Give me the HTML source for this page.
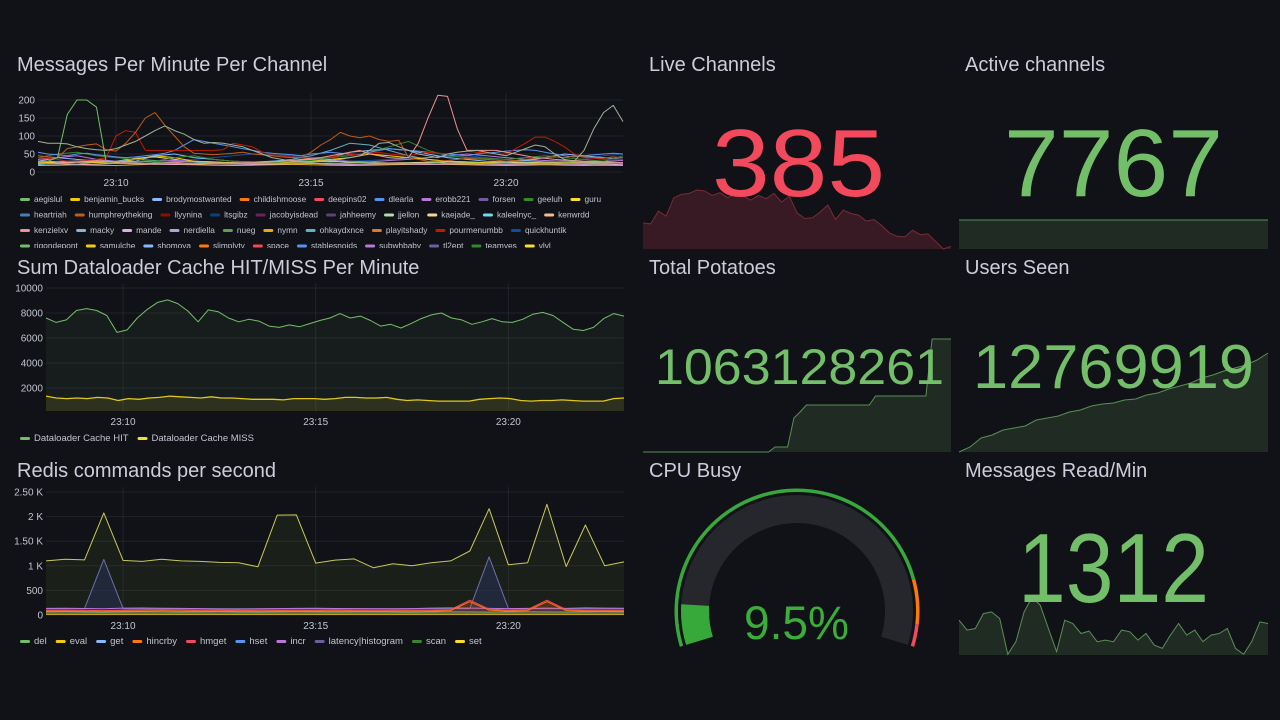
<!DOCTYPE html>
<html>
<head>
<meta charset="utf-8">
<style>
html,body{margin:0;padding:0;background:#111217;}
svg{display:block;font-family:"Liberation Sans",sans-serif;}
.ttl{fill:#ccccdc;font-size:20px;}
.ax{fill:#c2c4cf;font-size:10px;}
.lg{fill:#c2c4cf;font-size:9.5px;}
.lg1{fill:#c2c4cf;font-size:8.3px;}
</style>
</head>
<body>
<svg id="dash" width="1280" height="720" viewBox="0 0 1280 720">
  <rect x="0" y="0" width="1280" height="720" fill="#111217"/>
  <defs>
    <clipPath id="clip1"><rect x="0" y="85" width="636" height="163"/></clipPath>
  </defs>
  <g id="p1">
    <text class="ttl" x="17" y="71">Messages Per Minute Per Channel</text>
  </g>
  <g id="p2">
    <text class="ttl" x="17" y="274">Sum Dataloader Cache HIT/MISS Per Minute</text>
  </g>
  <g id="p3">
    <text class="ttl" x="17" y="477">Redis commands per second</text>
  </g>
  <g id="s1">
    <text class="ttl" x="649" y="71">Live Channels</text>
  </g>
  <g id="s2">
    <text class="ttl" x="965" y="71">Active channels</text>
  </g>
  <g id="s3">
    <text class="ttl" x="649" y="274">Total Potatoes</text>
  </g>
  <g id="s4">
    <text class="ttl" x="965" y="274">Users Seen</text>
  </g>
  <g id="s5">
    <text class="ttl" x="649" y="477">CPU Busy</text>
  </g>
  <g id="s6">
    <text class="ttl" x="965" y="477">Messages Read/Min</text>
  </g>
</svg>
<script>
// ---------- Chart 1 data (Messages Per Minute Per Channel) ----------
const c1Ticks = [0, 50, 100, 150, 200];
const timeTickLabels = ["23:10", "23:15", "23:20"];
const timeTickMinutes = [2, 7, 12];
const c1Aegislul = [28,30,40,160,200,200,180,25,24,24,25,24,26,25,24,23,24,25,24,24,23,23,24,25,24,24,23,24,25,24,25,24,25,26,25,24,24,24,25,24,25,26,24,24,25,24,23,24,25,24,25,24,23,24,25,24,24,23,24,25,24];
const c1Kenwrdd = [85,80,80,78,70,65,62,60,65,75,85,100,115,128,115,105,90,80,82,80,75,70,60,50,40,35,30,30,28,30,32,35,40,45,60,80,82,70,60,50,45,40,50,55,58,60,55,50,45,55,65,75,70,50,35,30,60,120,165,185,140];
const c1Kenzielxv = [30,30,28,27,28,30,32,30,28,26,25,24,25,26,27,25,24,25,26,25,24,25,26,27,28,30,32,35,38,40,45,50,55,60,50,45,40,38,40,80,150,213,210,120,60,60,60,60,55,50,45,40,38,35,33,32,30,30,28,27,26];
const c1Humphrey = [45,42,40,65,70,75,78,62,58,80,110,150,165,130,100,70,52,50,48,50,52,55,50,48,45,42,40,40,55,75,90,110,100,95,100,90,85,88,40,35,30,30,32,35,38,36,35,33,30,32,35,38,40,42,40,45,42,40,38,42,40];
const c1Llyynina = [40,38,35,30,30,32,35,40,100,115,110,60,60,60,60,60,60,60,60,62,80,75,70,55,48,45,42,40,38,40,42,45,48,50,52,55,50,48,45,50,55,52,50,55,58,55,52,50,50,65,80,97,97,85,70,50,40,38,35,35,35];
const c1Dlearla = [55,50,48,45,50,52,48,45,42,40,42,45,48,52,60,75,90,85,80,75,70,65,60,55,52,50,48,45,50,52,55,52,50,48,55,60,65,62,60,58,55,52,50,48,45,50,52,55,58,60,62,60,55,50,45,42,45,48,50,52,50];
const c1Brody = [30,40,35,30,28,30,45,50,40,35,30,28,30,32,35,40,55,60,65,60,50,40,35,30,28,32,40,50,45,40,35];
const c1Benjamin = [25,28,30,26,25,35,45,40,30,28,25,24,25,28,30,35,40,50,45,40,35,30,28,26,25,24,25,26,25,24,25];
const c1Erobb = [35,40,45,35,30,28,30,32,30,28,25,26,28,30,35,32,30,28,32,35,40,45,50,45,40,35,32,30,28,30,32];
const c1Ohkay = [20,25,22,28,30,35,32,30,28,25,24,26,30,35,45,60,80,75,60,45,35,30,28,25,30,32,28,25,26,28,25];
const c1Geeluh = [40,50,55,45,40,35,30,40,45,35,30,28,26,30,32,40,45,55,70,85,60,45,40,38,35,40,45,40,35,30,45];
const c1Quick = [28,30,32,35,30,28,30,32,35,40,45,50,48,45,40,35,30,32,35,38,40,42,45,40,35,30,28,30,35,45,50];
const c1Mande = [22,23,21,22,24,23,22,21,22,23,22,21,22,23,24,22,21,22,23,22,21,22,23,22,21,22,23,22,21,22,20];
const c1Kaejade = [26,25,27,28,30,38,42,35,30,27,26,25,26,27,28,30,27,26,25,26,27,28,26,25,26,27,26,25,26,27,26];
const c1Nymn = [18,19,20,19,18,20,22,21,20,19,18,19,20,21,20,19,18,19,20,21,22,21,20,19,18,19,20,19,18,19,18];
const c1Names = ["aegislul","benjamin_bucks","brodymostwanted","childishmoose","deepins02","dlearla","erobb221","forsen","geeluh","guru","heartriah","humphreytheking","llyynina","ltsgibz","jacobyisdead","jahheemy","jjellon","kaejade_","kaleelnyc_","kenwrdd","kenzielxv","macky","mande","nerdiella","nueg","nymn","ohkaydxnce","playitshady","pourmenumbb","quickhuntik","rigondepont","samulche","shomoya","slimplyty","space","stablesnoids","subwhbaby","tl2ept","teamyes","vlvl"];
const c1Colors = ["#73BF69","#F2CC0C","#8AB8FF","#FF780A","#F2495C","#5794F2","#B877D9","#705DA0","#37872D","#FADE2A","#447EBC","#C15C17","#890F02","#0A437C","#6D1F62","#584477","#B7DBAB","#F4D598","#70DBED","#F9BA8F","#F29191","#82B5D8","#E5A8E2","#AEA2E0","#629E51","#E5AC0E","#64B0C8","#E0752D","#BF1B00","#0A50A1","#73BF69","#F2CC0C","#8AB8FF","#FF780A","#F2495C","#5794F2","#B877D9","#705DA0","#37872D","#FADE2A"];

// ---------- Chart 2 data (Dataloader) ----------
const c2Ticks = [2000, 4000, 6000, 8000, 10000];
const c2Hit = [7600,7250,7450,8200,8350,8200,7800,6450,6650,7600,8300,8850,9050,8750,8150,7300,8250,8100,7600,7300,7500,7350,6950,6850,7050,6900,7150,7400,7600,7950,7600,7750,7400,6950,7100,6800,7150,7550,7850,8000,7600,7450,7100,7300,7550,7300,7250,7500,7900,8050,7800,7250,6700,6600,6850,7550,7950,7750];
const c2Miss = [1350,1200,1150,1200,1150,1250,1200,1000,1150,1100,1200,1250,1350,1300,1250,1200,1300,1200,1200,1150,1100,1100,1100,1050,1150,1150,1150,1100,1150,1250,1250,1200,1200,1250,1100,1000,1050,1000,950,950,950,950,1100,1150,1200,1150,1000,950,1000,1000,1050,1000,950,950,950,1150,1200];

// ---------- Chart 3 data (Redis) ----------
const c3Ticks = [0, 500, 1000, 1500, 2000, 2500];
const c3TickLabels = ["0","500","1 K","1.50 K","2 K","2.50 K"];
const c3Set = [1100,1135,1120,2075,1110,1090,1135,1100,1090,1070,1060,980,2030,2035,1055,1115,1140,960,1040,1000,1060,1100,1300,2160,1020,1060,2250,985,1830,1000,1080];
const c3Latency = [130,130,130,1130,130,130,130,130,130,130,130,130,130,130,130,130,130,130,130,130,130,130,130,1180,130,130,130,130,130,130,130];
const c3Hmget = [100,100,95,90,100,105,110,105,100,95,90,95,100,100,100,105,100,95,95,100,100,110,300,120,100,110,300,110,100,100,100];
const c3Hincrby = [80,80,78,75,80,82,85,82,80,78,75,78,80,80,80,82,80,78,78,80,80,90,270,100,80,90,270,90,80,80,80];
const c3Incr = [135,138,132,128,140,142,138,135,130,120,118,125,130,135,138,132,130,128,125,130,140,145,140,135,130,135,140,135,145,140,138];
const c3Del = [60,62,58,55,60,62,60,58,60,62,58,56,60,62,60,58,60,60,58,56,60,62,60,58,60,62,60,58,60,62,60];
const c3Eval = [15,15,16,15,14,15,16,15,15,14,15,16,15,15,14,15,16,15,15,14,15,16,15,15,14,15,16,15,15,14,15];
const c3Names = ["del","eval","get","hincrby","hmget","hset","incr","latency|histogram","scan","set"];
const c3Colors = ["#73BF69","#F2CC0C","#8AB8FF","#FF780A","#F2495C","#5794F2","#B877D9","#705DA0","#37872D","#FADE2A"];

// ---------- Stat panel data ----------
const liveSpark = [455,452,490,475,530,540,543,553,550,537,545,530,543,535,523,537,527,543,517,535,485,468,470,487,508,465,493,483,478,460,465,447,425,415,413,433,420,422,400,377,385];
const activeSpark = [7767,7767,7767,7767,7767,7767,7767,7767,7767,7767,7767,7767,7767,7767,7767,7767,7767,7767,7767,7767];
const potatoSpark = [0,0,0,0,0,0,0,0,0,0,0,0,0,0,0,0,0,0,0,0,0,5,5,5,34,40,47,47,47,47,47,47,47,47,47,47,47,56,56,56,56,56,56,56,56,56,113,113,113,113];
const usersSpark = [0,5,14,17,22,24,26,32,34,36,40,42,46,48,49,52,53,57,59,63,66,69,74,77,81,84,87,92,99];
const msgSpark = [105,75,80,125,130,110,2,40,130,175,150,80,10,105,95,65,72,40,45,40,75,70,45,65,30,20,60,95,60,75,40,60,65,80,20,2,40,100,95];
const cpuValue = 9.5;
const cpuThresholds = [0, 85, 95];
const cpuThresholdColors = ["#37a93b", "#FF780A", "#F2495C"];

// ---------- helpers ----------
const NS = "http://www.w3.org/2000/svg";
function mk(tag, parent) { const e = document.createElementNS(NS, tag); parent.appendChild(e); return e; }
function attrs(e, a) { for (const k in a) e.setAttribute(k, a[k]); return e; }
const TMAX = 15;

function seriesPoints(vals, xf, yf) {
  const n = vals.length;
  return vals.map((v, i) => [xf(i * TMAX / (n - 1)), yf(v)]);
}
function pathFrom(pts) { return pts.map((p, i) => (i ? "L" : "M") + p[0].toFixed(1) + "," + p[1].toFixed(1)).join(""); }

function drawAxes(g, geo, ticks, tickLabels, labelRight) {
  ticks.forEach((v, i) => {
    const y = geo.y(v);
    const ln = mk("line", g);
    attrs(ln, {x1: geo.x0, x2: geo.x1, y1: y, y2: y, stroke: "rgba(204,204,220,0.09)", "stroke-width": 1});
    
    
    const t = mk("text", g);
    attrs(t, {x: labelRight, y: y + 3.5, "text-anchor": "end", class: "ax"});
    t.textContent = tickLabels ? tickLabels[i] : String(v);
    
    
  });
  timeTickMinutes.forEach((m, i) => {
    const x = geo.x(m);
    const ln = mk("line", g);
    attrs(ln, {x1: x, x2: x, y1: geo.top, y2: geo.bottom, stroke: "rgba(204,204,220,0.09)", "stroke-width": 1});
    
    
    const t = mk("text", g);
    attrs(t, {x: x, y: geo.labelY, "text-anchor": "middle", class: "ax"});
    t.textContent = timeTickLabels[i];
    
    
  });
}

function drawSeries(g, vals, geo, color, fill, name, width) {
  const pts = seriesPoints(vals, geo.x, geo.y);
  if (fill) {
    const a = mk("path", g);
    attrs(a, {d: pathFrom(pts) + "L" + pts[pts.length - 1][0] + "," + geo.bottom + "L" + pts[0][0] + "," + geo.bottom + "Z", fill: fill, stroke: "none"});
    
    
  }
  const p = mk("path", g);
  attrs(p, {d: pathFrom(pts), fill: "none", stroke: color, "stroke-width": width || 1, "stroke-linejoin": "round"});
  
  
}

function drawLegend(g, names, colors, startX, startY, maxX, rowH, cls, gap) {
  let x = startX, y = startY;
  names.forEach((nm, i) => {
    const t = mk("text", g);
    attrs(t, {class: cls, x: 0, y: 0});
    t.textContent = nm;
    const w = t.getComputedTextLength ? t.getComputedTextLength() : nm.length * 5;
    if (x + 15 + w > maxX && x > startX) { x = startX; y += rowH; }
    const sw = mk("rect", g);
    attrs(sw, {x: x, y: y - 4, width: 10, height: 3, rx: 1.5, fill: colors[i]});
    
    
    attrs(t, {x: x + 14, y: y});
    
    
    x += 14 + w + gap;
  });
}

// ---------- Chart 1 ----------
(function () {
  const g = document.getElementById("p1");
  const geo = {x0: 38, x1: 623, top: 93, bottom: 172, labelY: 186,
    x: t => 38 + t * 39, y: v => 172 - v * 0.36};
  drawAxes(g, geo, c1Ticks, null, 35);
  const sg = mk("g", g);
  sg.setAttribute("clip-path", "url(#clip1)");
  
  
  const list = [
    [c1Nymn, "#E5AC0E", "nymn"], [c1Mande, "#E5A8E2", "mande"], [c1Kaejade, "#F4D598", "kaejade"],
    [c1Quick, "#0A50A1", "quickhuntik"], [c1Ohkay, "#64B0C8", "ohkaydxnce"], [c1Erobb, "#B877D9", "erobb221"],
    [c1Benjamin, "#F2CC0C", "benjamin-bucks"], [c1Brody, "#8AB8FF", "brodymostwanted"], [c1Geeluh, "#37872D", "geeluh"],
    [c1Dlearla, "#5794F2", "dlearla"], [c1Llyynina, "#BF1B00", "llyynina"], [c1Humphrey, "#C15C17", "humphreytheking"],
    [c1Kenzielxv, "#F29191", "kenzielxv"], [c1Kenwrdd, "#9FB39A", "kenwrdd"], [c1Aegislul, "#73BF69", "aegislul"]
  ];
  list.forEach(s => drawSeries(sg, s[0], geo, s[1], null, s[2], 1));
  const lg = mk("g", g);
  lg.setAttribute("clip-path", "url(#clip1)");
  
  
  drawLegend(lg, c1Names, c1Colors, 20, 202, 628, 15.5, "lg1", 8);
})();

// ---------- Chart 2 ----------
(function () {
  const g = document.getElementById("p2");
  const geo = {x0: 46, x1: 624, top: 283, bottom: 411, labelY: 425,
    x: t => 46 + t * 38.53, y: v => 413 - v * 0.0125};
  drawAxes(g, geo, c2Ticks, null, 43);
  drawSeries(g, c2Hit, geo, "#73BF69", "rgba(115,191,105,0.07)", "cache-hit", 1);
  drawSeries(g, c2Miss, geo, "#E0C818", "rgba(250,222,42,0.10)", "cache-miss", 1.3);
  const lg = mk("g", g);
  
  
  drawLegend(lg, ["Dataloader Cache HIT", "Dataloader Cache MISS"], ["#73BF69", "#FADE2A"], 20, 441, 625, 15, "lg", 9);
})();

// ---------- Chart 3 ----------
(function () {
  const g = document.getElementById("p3");
  const geo = {x0: 46, x1: 624, top: 487, bottom: 615, labelY: 629,
    x: t => 46 + t * 38.53, y: v => 615 - v * 0.0492};
  drawAxes(g, geo, c3Ticks, c3TickLabels, 43);
  drawSeries(g, c3Set, geo, "#C9C85A", "rgba(110,150,50,0.10)", "set", 1);
  drawSeries(g, c3Latency, geo, "#6E6FA8", "rgba(40,50,100,0.45)", "latency-histogram", 1);
  drawSeries(g, c3Incr, geo, "#B877D9", null, "incr", 1);
  drawSeries(g, c3Hmget, geo, "#F2495C", "rgba(242,73,92,0.15)", "hmget", 1);
  drawSeries(g, c3Hincrby, geo, "#FF780A", "rgba(255,120,10,0.12)", "hincrby", 1);
  drawSeries(g, c3Del, geo, "#73BF69", null, "del", 1);
  drawSeries(g, c3Eval, geo, "#C0A020", null, "eval", 1.5);
  const lg = mk("g", g);
  
  
  drawLegend(lg, c3Names, c3Colors, 20, 644, 625, 15, "lg", 9);
})();

// ---------- Stat sparklines ----------
function spark(g, vals, x0, x1, yTop, yBottom, line, fill, name, lo, hi) {
  const mn = lo !== undefined ? lo : Math.min(...vals);
  const mx = hi !== undefined ? hi : Math.max(...vals);
  const n = vals.length;
  const xs = i => x0 + (x1 - x0) * i / (n - 1);
  const ys = v => mx === mn ? yTop : yBottom - (v - mn) / (mx - mn) * (yBottom - yTop);
  const pts = vals.map((v, i) => [xs(i), ys(v)]);
  const a = mk("path", g);
  attrs(a, {d: pathFrom(pts) + "L" + x1 + "," + yBottom + "L" + x0 + "," + yBottom + "Z", fill: fill});
  
  
  const p = mk("path", g);
  attrs(p, {d: pathFrom(pts), fill: "none", stroke: line, "stroke-width": 1});
  
  
}
function bigValue(g, txt, x, y, size, len, color, name) {
  const t = mk("text", g);
  attrs(t, {x: x, y: y, "font-size": size, fill: color, textLength: len, lengthAdjust: "spacingAndGlyphs"});
  t.textContent = txt;
  
  
}
(function () {
  const s1 = document.getElementById("s1");
  spark(s1, liveSpark, 643, 951, 190, 249, "#7a2a36", "rgba(242,73,92,0.17)", "live-channels", 377, 553);
  bigValue(s1, "385", 712, 196, 96, 173, "#F2495C", "live-channels-value");
  const s2 = document.getElementById("s2");
  spark(s2, activeSpark, 959, 1268, 220, 249, "#5a8f55", "rgba(115,191,105,0.15)", "active-channels");
  bigValue(s2, "7767", 1004, 196, 96, 219, "#73BF69", "active-channels-value");
  const s3 = document.getElementById("s3");
  spark(s3, potatoSpark, 643, 951, 339, 452, "#5a8f55", "rgba(115,191,105,0.15)", "total-potatoes");
  bigValue(s3, "1063128261", 655, 384, 50, 289, "#73BF69", "total-potatoes-value");
  const s4 = document.getElementById("s4");
  spark(s4, usersSpark, 959, 1268, 353, 452, "#5a8f55", "rgba(115,191,105,0.15)", "users-seen");
  bigValue(s4, "12769919", 973, 388, 62, 281, "#73BF69", "users-seen-value");
  const s6 = document.getElementById("s6");
  spark(s6, msgSpark, 959, 1268, 597, 655, "#5a8f55", "rgba(115,191,105,0.15)", "messages-read", 0, 175);
  bigValue(s6, "1312", 1018, 602, 98, 191, "#73BF69", "messages-read-value");
})();

// ---------- CPU gauge ----------
(function () {
  const g = document.getElementById("s5");
  const cx = 797, cy = 611, A0 = 163, SPAN = 214;
  const ang = pct => A0 + SPAN * pct / 100;
  const pt = (r, a) => [cx + r * Math.cos(a * Math.PI / 180), cy + r * Math.sin(a * Math.PI / 180)];
  function band(r0, r1, a0, a1) {
    const large = (a1 - a0) > 180 ? 1 : 0;
    const p1 = pt(r1, a0), p2 = pt(r1, a1), p3 = pt(r0, a1), p4 = pt(r0, a0);
    return "M" + p1.join(",") + "A" + r1 + "," + r1 + " 0 " + large + " 1 " + p2.join(",") +
      "L" + p3.join(",") + "A" + r0 + "," + r0 + " 0 " + large + " 0 " + p4.join(",") + "Z";
  }
  const bg = mk("path", g);
  attrs(bg, {d: band(88, 116, ang(0), ang(100)), fill: "#25272c"});
  
  
  const val = mk("path", g);
  attrs(val, {d: band(88, 116, ang(0), ang(cpuValue)), fill: "#37a93b"});
  
  
  cpuThresholds.forEach((th, i) => {
    const end = i + 1 < cpuThresholds.length ? cpuThresholds[i + 1] : 100;
    const seg = mk("path", g);
    attrs(seg, {d: band(119, 122.5, ang(th), ang(end)), fill: cpuThresholdColors[i]});
    
    
  });
  bigValue(g, cpuValue + "%", 744, 639, 47, 105, "#3bad3b", "cpu-busy-value");
})();
</script>
</body>
</html>
